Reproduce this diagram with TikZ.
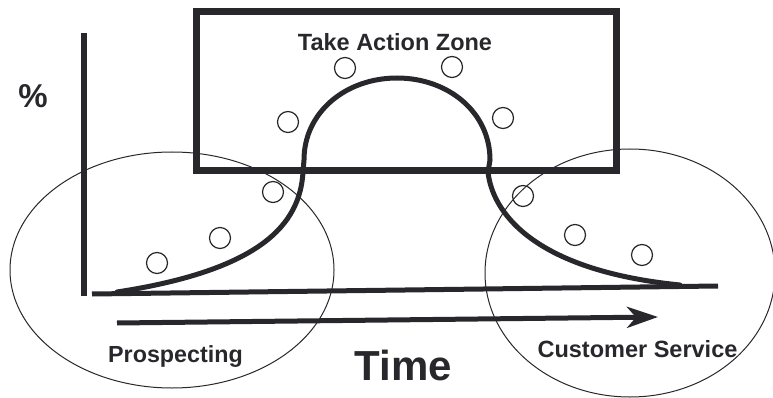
\documentclass[tikz,border=0pt]{standalone}
\usepackage{fontspec}
\setmainfont{Liberation Sans}
\usetikzlibrary{arrows.meta}
\definecolor{ink}{RGB}{40,40,44}
\begin{document}
\begin{tikzpicture}[x=1pt,y=-1pt,
  thick line/.style={draw=ink,line width=5pt},
  zone/.style={draw=ink,line width=7pt},
  thin ell/.style={draw=ink,line width=1pt},
  dot/.style={circle,draw=ink,line width=1.2pt,minimum width=21pt,minimum height=20pt,inner sep=0pt},
  lbl/.style={text=ink,font=\bfseries,inner sep=0pt,anchor=base}]
\useasboundingbox (0,0) rectangle (773,398);
% regions
\draw[thin ell] (172,270) ellipse [x radius=162, y radius=118];
\draw[thin ell] (630,273) ellipse [x radius=145, y radius=124];
\draw[zone] (196,12) rectangle (616,171);
% axes
\coordinate (ytop) at (84,33);
\coordinate (ybot) at (84,296);
\coordinate (xl) at (92,294);
\coordinate (xr) at (718,286);
\draw[draw=ink,line width=6pt] (ytop) -- (ybot);
\draw[thick line] (xl) -- (xr);
% time arrow
\coordinate (al) at (117,323);
\coordinate (ar) at (658,317);
\draw[thick line,-{Stealth[length=31pt,width=21pt,inset=9pt]}] (al) -- (ar);
% curve
\draw[thick line,line cap=round]
  (117,292) .. controls (260,270) and (300,225) .. (303,172)
  -- (304,160) .. controls (304,112) and (346,78) .. (397,78)
  .. controls (448,78) and (490,112) .. (490,160)
  -- (488,172) .. controls (492,210) and (530,270) .. (680,285);
% small circles
\node[dot] (c1) at (345,68) {};
\node[dot] (c2) at (452,67) {};
\node[dot] (c3) at (288,122) {};
\node[dot] (c4) at (503,118) {};
\node[dot] (c5) at (273,192) {};
\node[dot] (c6) at (523,196) {};
\node[dot] (c7) at (220,238) {};
\node[dot] (c8) at (157,263) {};
\node[dot] (c9) at (575,235) {};
\node[dot] (c10) at (642,255) {};
% labels
\node[lbl,font=\bfseries\fontsize{23.5}{26}\selectfont] (zone) at (395,51) {Take Action Zone};
\node[lbl,font=\bfseries\fontsize{33}{36}\selectfont] (pct) at (33,108) {\%};
\node[lbl,font=\bfseries\fontsize{23.3}{26}\selectfont] (prosp) at (175.5,362) {Prospecting};
\node[lbl,font=\bfseries\fontsize{23.5}{26}\selectfont] (cust) at (637.5,357) {Customer Service};
\node[lbl,font=\bfseries\fontsize{42}{46}\selectfont] (time) at (403.5,380) {Time};
\end{tikzpicture}
\end{document}
